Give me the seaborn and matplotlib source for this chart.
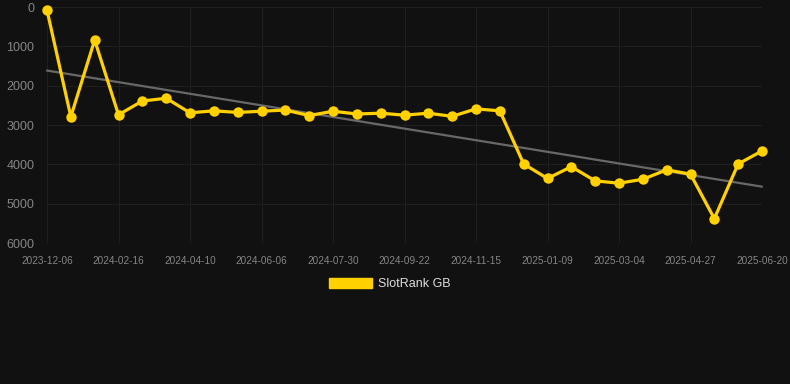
import numpy as np
import pandas as pd
import matplotlib
matplotlib.use("Agg")
import matplotlib.pyplot as plt
from matplotlib.patches import Patch
import seaborn as sns

# Data
tick_labels = ["2023-12-06", "2024-02-16", "2024-04-10", "2024-06-06", "2024-07-30",
               "2024-09-22", "2024-11-15", "2025-01-09", "2025-03-04", "2025-04-27",
               "2025-06-20"]
ranks = [80, 2790, 840, 2740, 2390, 2320, 2690, 2640, 2680, 2650, 2620,
         2760, 2650, 2720, 2700, 2750, 2700, 2780, 2590, 2640, 3990,
         4360, 4060, 4420, 4480, 4380, 4140, 4250, 5380, 3990, 3660]
series_name = "SlotRank GB"

BG = "#111111"
GOLD = "#FFD100"
GRID = "#1f1f1f"
TXT = "#858585"

sns.set_theme(style="dark")
plt.rcParams["font.family"] = ["Liberation Sans", "DejaVu Sans"]

df = pd.DataFrame({"idx": np.arange(len(ranks)), "rank": ranks})

fig = plt.figure(figsize=(7.9, 3.84), dpi=100, facecolor=BG)
ax = fig.add_axes([47/790, 1-243/384, (762-47)/790, (243-7)/384])
ax.set_facecolor(BG)

# Trend line (linear regression of the series)
coef = np.polyfit(df["idx"], df["rank"], 1)
trend = np.polyval(coef, df["idx"])
ax.plot(df["idx"], trend, color="#686868", lw=1.6, zorder=2)

sns.lineplot(data=df, x="idx", y="rank", ax=ax, color=GOLD, lw=2.3,
             marker="o", markersize=7.5, markeredgewidth=0, zorder=3, legend=False)

ax.set_xlim(0, len(ranks)-1)
ax.set_ylim(6000, 0)
ax.set_xticks(np.arange(0, len(ranks), 3))
ax.set_xticklabels(tick_labels)
ax.set_yticks(np.arange(0, 6001, 1000))
ax.set_yticklabels([str(v) for v in range(0, 6001, 1000)])
ax.set_xlabel("")
ax.set_ylabel("")

ax.grid(True, color=GRID, lw=0.8)
for s in ax.spines.values():
    s.set_visible(False)
ax.tick_params(axis="y", colors=GRID, labelcolor=TXT, labelsize=9, length=7, width=0.8, pad=2)
ax.tick_params(axis="x", colors=GRID, labelcolor=TXT, labelsize=7.2, length=5, width=0.8, pad=4)
for l in ax.lines:
    l.set_clip_on(False)

fig.legend(handles=[Patch(facecolor=GOLD, edgecolor=GOLD, label=series_name)],
           loc="center", bbox_to_anchor=(390/790, 1-284/384), frameon=False,
           fontsize=9, labelcolor="#dddddd", handlelength=3.4, handleheight=0.9,
           handletextpad=0.5)

fig.savefig("out.png", dpi=100, facecolor=BG)
